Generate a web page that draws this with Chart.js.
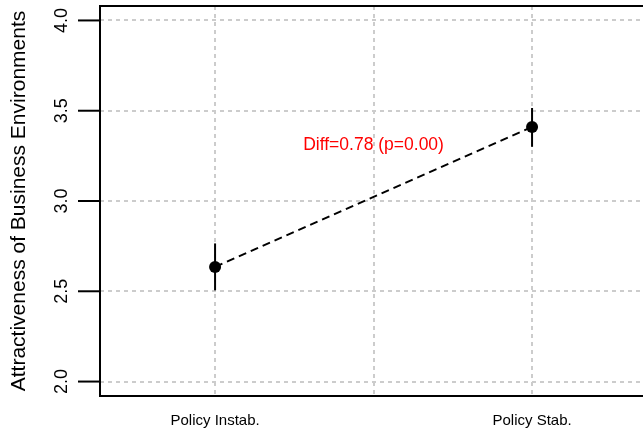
<!DOCTYPE html>
<html>
<head>
<meta charset="utf-8">
<script src="https://cdn.jsdelivr.net/npm/chart.js@4"></script>
<style>
  html, body { margin: 0; background: #fff; overflow: hidden; }
  canvas { display: block; }
</style>
</head>
<body>
<canvas id="myChart" width="643" height="429"></canvas>
<script>
// data
const categories = ["Policy Instab.", "Policy Stab."];
const means = [2.635, 3.41];
const lower = [2.505, 3.30];
const upper = [2.765, 3.515];
const yTicks = [2.0, 2.5, 3.0, 3.5, 4.0];
const xGrid = [1, 1.5, 2];
const yTitle = "Attractiveness of Business Environments";
const diffText = "Diff=0.78 (p=0.00)";

const FONT = '"Liberation Sans", Arial, Helvetica, sans-serif';

// error bars, box, rotated y labels, annotation
const extras = {
  id: "extras",
  beforeDatasetsDraw(chart) {
    const { ctx, scales: { x, y } } = chart;
    ctx.save();
    ctx.strokeStyle = "#000";
    ctx.lineWidth = 2;
    means.forEach((_, i) => {
      const px = x.getPixelForValue(i + 1);
      ctx.beginPath();
      ctx.moveTo(px, y.getPixelForValue(lower[i]));
      ctx.lineTo(px, y.getPixelForValue(upper[i]));
      ctx.stroke();
    });
    ctx.restore();
  },
  afterDraw(chart) {
    const { ctx, chartArea: a, scales: { x, y } } = chart;
    ctx.save();
    // box (right side runs off the canvas)
    ctx.strokeStyle = "#000";
    ctx.lineWidth = 2;
    ctx.beginPath();
    ctx.moveTo(a.right + 5, a.top);
    ctx.lineTo(a.left, a.top);
    ctx.lineTo(a.left, a.bottom);
    ctx.lineTo(a.right + 5, a.bottom);
    ctx.stroke();

    // y tick marks + rotated labels
    ctx.fillStyle = "#000";
    ctx.font = "18px " + FONT;
    ctx.textAlign = "center";
    ctx.textBaseline = "middle";
    yTicks.forEach((v) => {
      const py = y.getPixelForValue(v);
      ctx.beginPath();
      ctx.moveTo(a.left - 22, py);
      ctx.lineTo(a.left, py);
      ctx.stroke();
      ctx.save();
      ctx.translate(62, py);
      ctx.rotate(-Math.PI / 2);
      ctx.fillText(v.toFixed(1), 0, 0);
      ctx.restore();
    });

    // y title
    ctx.font = "21px " + FONT;
    ctx.save();
    ctx.translate(19, (a.top + a.bottom) / 2);
    ctx.rotate(-Math.PI / 2);
    ctx.fillText(yTitle, 0, 0);
    ctx.restore();

    // difference label
    ctx.fillStyle = "#ff0000";
    ctx.font = "17.5px " + FONT;
    ctx.fillText(diffText, x.getPixelForValue(1.5), 145);
    ctx.restore();
  },
};

const ctx = document.getElementById("myChart").getContext("2d");
new Chart(ctx, {
  type: "scatter",
  data: {
    datasets: [
      {
        data: means.map((m, i) => ({ x: i + 1, y: m })),
        showLine: true,
        borderColor: "#000",
        borderWidth: 2,
        borderDash: [8, 5],
        pointRadius: 6,
        pointBackgroundColor: "#000",
        pointBorderColor: "#000",
        pointBorderWidth: 0,
      },
    ],
  },
  options: {
    responsive: false,
    animation: false,
    layout: { autoPadding: false, padding: { top: 6, left: 0, right: 0, bottom: 0 } },
    plugins: { legend: { display: false }, tooltip: { enabled: false } },
    scales: {
      x: {
        type: "linear",
        min: 0.637,
        max: 2.35,
        afterBuildTicks: (s) => { s.ticks = xGrid.map((v) => ({ value: v })); },
        afterFit: (s) => {
          s.height = 33;
          s.paddingLeft = 0;
          s.paddingRight = 0;
        },
        border: { display: false, dash: [4, 4] },
        grid: { color: "#cccccc", lineWidth: 2, drawTicks: false },
        ticks: {
          color: "#000",
          font: { family: FONT, size: 15 },
          padding: 16,
          maxRotation: 0,
          autoSkip: false,
          callback: (v) => (Number.isInteger(v) ? categories[v - 1] : ""),
        },
      },
      y: {
        min: 1.92,
        max: 4.08,
        afterBuildTicks: (s) => { s.ticks = yTicks.map((v) => ({ value: v })); },
        afterFit: (s) => {
          s.width = 100;
          s.paddingTop = 0;
          s.paddingBottom = 0;
        },
        border: { display: false, dash: [4, 4] },
        grid: { color: "#cccccc", lineWidth: 2, drawTicks: false },
        ticks: { display: false },
      },
    },
  },
  plugins: [extras],
});
</script>
</body>
</html>
